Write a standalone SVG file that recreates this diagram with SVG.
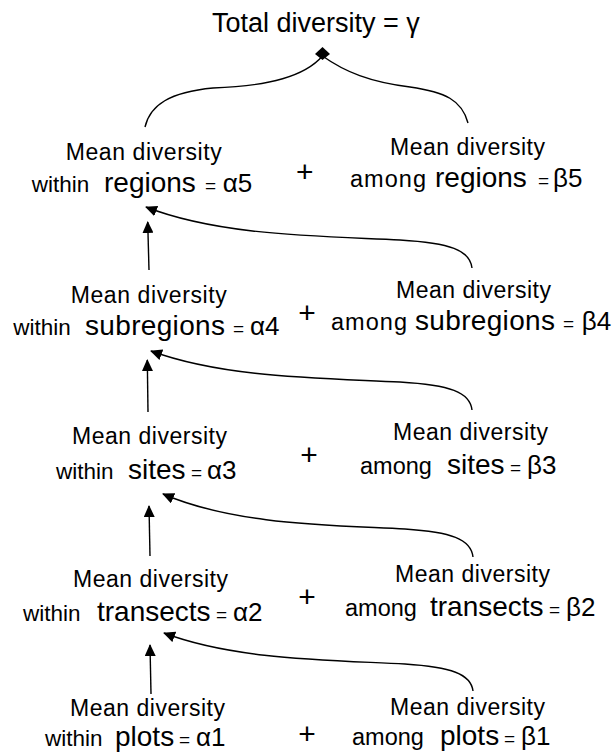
<svg xmlns="http://www.w3.org/2000/svg" width="616" height="753" viewBox="0 0 616 753">
<style>
text { font-family: "Liberation Sans", Arial, sans-serif; fill: #000; }
.title { font-size: 27px; }
.md { font-size: 23px; }
.sm { font-size: 22.5px; }
.am { font-size: 23.5px; }
.big { font-size: 28px; }
.eq { font-size: 19px; }
.gr { font-size: 26px; }
.plus { font-size: 30px; text-anchor: middle; }
.conn path { fill: none; stroke: #000; stroke-width: 1.4; }
</style>
<defs>
<marker id="ah" viewBox="0 0 12 11" refX="11" refY="5.5" markerWidth="12" markerHeight="11" markerUnits="userSpaceOnUse" orient="auto">
<path d="M0,0 L12,5.5 L0,11 z" fill="#000"/>
</marker>
</defs>

<g id="total">
<text class="title" x="212" y="32">Total diversity = γ</text>
</g>

<g id="alpha5">
<text class="md" x="65.7" y="160" textLength="156" lengthAdjust="spacing">Mean diversity</text>
<text class="sm" x="31.7" y="192">within</text>
<text class="big" x="104" y="192">regions</text>
<text class="eq" x="205" y="192">=</text>
<text class="gr" x="222.7" y="192">α5</text>
</g>
<g id="plus5"><text class="plus" x="304.7" y="182">+</text></g>
<g id="beta5">
<text class="md" x="390" y="155" textLength="155" lengthAdjust="spacing">Mean diversity</text>
<text class="am" x="350" y="187" textLength="76" lengthAdjust="spacing">among</text>
<text class="big" x="435" y="187">regions</text>
<text class="eq" x="538" y="187">=</text>
<text class="gr" x="553" y="187">β5</text>
</g>

<g id="alpha4">
<text class="md" x="70.7" y="303" textLength="156" lengthAdjust="spacing">Mean diversity</text>
<text class="sm" x="13.3" y="335">within</text>
<text class="big" x="85" y="335" textLength="140" lengthAdjust="spacing">subregions</text>
<text class="eq" x="233" y="335">=</text>
<text class="gr" x="250" y="335">α4</text>
</g>
<g id="plus4"><text class="plus" x="307" y="322.5">+</text></g>
<g id="beta4">
<text class="md" x="396" y="298" textLength="155" lengthAdjust="spacing">Mean diversity</text>
<text class="am" x="331" y="330" textLength="76" lengthAdjust="spacing">among</text>
<text class="big" x="415" y="330" textLength="140" lengthAdjust="spacing">subregions</text>
<text class="eq" x="563" y="330">=</text>
<text class="gr" x="581.7" y="330">β4</text>
</g>

<g id="alpha3">
<text class="md" x="72" y="444" textLength="155" lengthAdjust="spacing">Mean diversity</text>
<text class="sm" x="56" y="479">within</text>
<text class="big" x="128" y="479">sites</text>
<text class="eq" x="191" y="479">=</text>
<text class="gr" x="207" y="479">α3</text>
</g>
<g id="plus3"><text class="plus" x="309" y="464.5">+</text></g>
<g id="beta3">
<text class="md" x="393" y="440" textLength="155" lengthAdjust="spacing">Mean diversity</text>
<text class="am" x="360" y="474">among</text>
<text class="big" x="447" y="474">sites</text>
<text class="eq" x="510" y="474">=</text>
<text class="gr" x="527" y="474">β3</text>
</g>

<g id="alpha2">
<text class="md" x="73" y="587" textLength="155" lengthAdjust="spacing">Mean diversity</text>
<text class="sm" x="23" y="621">within</text>
<text class="big" x="97" y="621">transects</text>
<text class="eq" x="216" y="621">=</text>
<text class="gr" x="233" y="621">α2</text>
</g>
<g id="plus2"><text class="plus" x="307" y="606.5">+</text></g>
<g id="beta2">
<text class="md" x="395" y="582" textLength="155" lengthAdjust="spacing">Mean diversity</text>
<text class="am" x="345" y="616">among</text>
<text class="big" x="430" y="616">transects</text>
<text class="eq" x="549" y="616">=</text>
<text class="gr" x="566" y="616">β2</text>
</g>

<g id="alpha1">
<text class="md" x="70" y="716" textLength="155" lengthAdjust="spacing">Mean diversity</text>
<text class="sm" x="45" y="746">within</text>
<text class="big" x="115" y="746">plots</text>
<text class="eq" x="179" y="746">=</text>
<text class="gr" x="196" y="746">α1</text>
</g>
<g id="plus1"><text class="plus" x="307" y="744">+</text></g>
<g id="beta1">
<text class="md" x="390" y="715" textLength="155" lengthAdjust="spacing">Mean diversity</text>
<text class="am" x="352" y="745">among</text>
<text class="big" x="440" y="745">plots</text>
<text class="eq" x="504" y="745">=</text>
<text class="gr" x="521" y="745">β1</text>
</g>

<g id="connectors" class="conn">
<path d="M145,127 C150,105 170,92 213,88 C270,86 305,76 322.5,56"/>
<path d="M468,123 C462,100 445,92 410,87 C370,82 345,72 322.5,56"/>
<polygon points="322.5,47 330,54 322.5,60 315,54" fill="#000"/>

<path d="M149,270 L147.7,222" marker-end="url(#ah)"/>
<path d="M472,268 C470,250 450,243 400,240 C320,236 220,236 146,207" marker-end="url(#ah)"/>

<path d="M148,412 L147.3,360" marker-end="url(#ah)"/>
<path d="M472,410 C470,392 450,385 400,382 C320,378 225,378 151,351" marker-end="url(#ah)"/>

<path d="M150,556 L149,506" marker-end="url(#ah)"/>
<path d="M473,557 C471,539 451,532 405,529 C330,525 235,525 163,494" marker-end="url(#ah)"/>

<path d="M151,694 L150,645" marker-end="url(#ah)"/>
<path d="M473,691 C471,674 451,667 405,664 C330,660 235,660 164,633" marker-end="url(#ah)"/>
</g>
</svg>
